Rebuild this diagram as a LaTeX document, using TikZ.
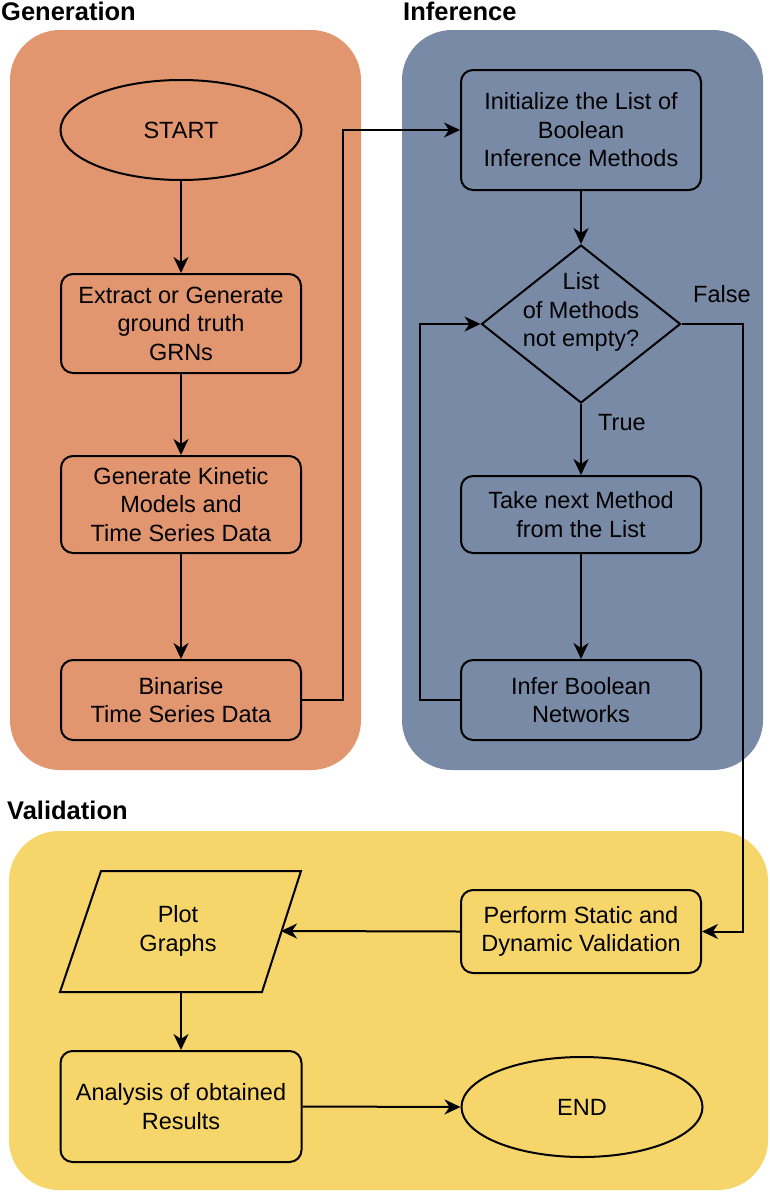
\documentclass[tikz,border=0pt]{standalone}
\usepackage{fontspec}
\setmainfont{Liberation Sans}
\usetikzlibrary{shapes.geometric,arrows.meta}
\definecolor{genfill}{HTML}{E19670}
\definecolor{inffill}{HTML}{788AA6}
\definecolor{valfill}{HTML}{F6D66B}
\tikzset{
  conn/.style={line width=2pt,-{Stealth[length=16pt,width=15pt,inset=5pt]}},
  boxnode/.style={draw,line width=2pt,rounded corners=12pt,align=center,minimum width=240pt,inner sep=0pt,font=\fontsize{23.5}{28.5}\selectfont},
  ovalnode/.style={draw,line width=2pt,ellipse,minimum width=241pt,minimum height=100pt,inner sep=0pt,font=\fontsize{23.5}{28.5}\selectfont},
  txt/.style={align=center,inner sep=0pt,font=\fontsize{23.5}{28.5}\selectfont},
  title/.style={anchor=base west,inner sep=0pt,font=\fontsize{25.5}{30}\selectfont\bfseries},
  panel/.style={rounded corners=50pt}
}
\begin{document}
\begin{tikzpicture}[x=1pt,y=-1pt]
\useasboundingbox (0,0) rectangle (770,1192);
% panels
\fill[genfill,panel] (10,30) rectangle (361,770);
\fill[inffill,panel] (402,30) rectangle (763,770);
\fill[valfill,panel] (9,831) rectangle (768,1190);
% titles
\node[title] (tgen) at (1,20) {Generation};
\node[title] (tinf) at (403,20) {Inference};
\node[title] (tval) at (7,819) {Validation};
% Generation
\node[ovalnode] (start) at (181,130) {START};
\node[boxnode,minimum height=99pt] (extract) at (181,323.5) {Extract or Generate\\ground truth\\GRNs};
\node[boxnode,minimum height=97pt] (kinetic) at (181,504.5) {Generate Kinetic\\Models and\\Time Series Data};
\node[boxnode,minimum height=80pt] (bin) at (181,700) {Binarise\\Time Series Data};
% Inference
\node[boxnode,minimum height=120pt] (init) at (581,130) {Initialize the List of\\Boolean\\Inference Methods};
\node[draw,line width=2pt,diamond,minimum width=199pt,minimum height=158pt,inner sep=0pt] (dia) at (581,324) {};
\node[txt] (diatext) at (581,312) {List\\of Methods\\not empty?};
\node[boxnode,minimum height=77pt] (take) at (581,514.5) {Take next Method\\from the List};
\node[boxnode,minimum height=80pt] (infer) at (581,700) {Infer Boolean\\Networks};
\node[txt,anchor=base west] (lfalse) at (693,302) {False};
\node[txt,anchor=base west] (ltrue) at (598,430) {True};
% Validation
\node[boxnode,minimum height=83pt] (perf) at (581,931.5) {Perform Static and\\Dynamic Validation};
\draw[line width=2pt,fill=valfill] (101,871) -- (301,871) -- (262,992) -- (60,992) -- cycle;
\node[txt] (plot) at (178,931) {Plot\\Graphs};
\coordinate (plotR) at (281,931);
\coordinate (plotB) at (181,992);
\node[boxnode,minimum height=111pt,minimum width=241pt] (ana) at (181,1106.5) {Analysis of obtained\\Results};
\node[ovalnode] (endn) at (582,1107) {END};
% connectors
\draw[conn] (start.south) -- (extract.north);
\draw[conn] (extract.south) -- (kinetic.north);
\draw[conn] (kinetic.south) -- (bin.north);
\draw[conn] (bin.east) -- ++(41,0) |- (init.west);
\draw[conn] (init.south) -- (dia.north);
\draw[conn] (dia.south) -- (take.north);
\draw[conn] (take.south) -- (infer.north);
\draw[conn] (infer.west) -- ++(-40,0) |- (dia.west);
\draw[conn] (dia.east) -- ++(61,0) |- (perf.east);
\draw[conn] (perf.west) -- (plotR);
\draw[conn] (plotB) -- (ana.north);
\draw[conn] (ana.east) -- (endn.west);
\end{tikzpicture}
\end{document}
